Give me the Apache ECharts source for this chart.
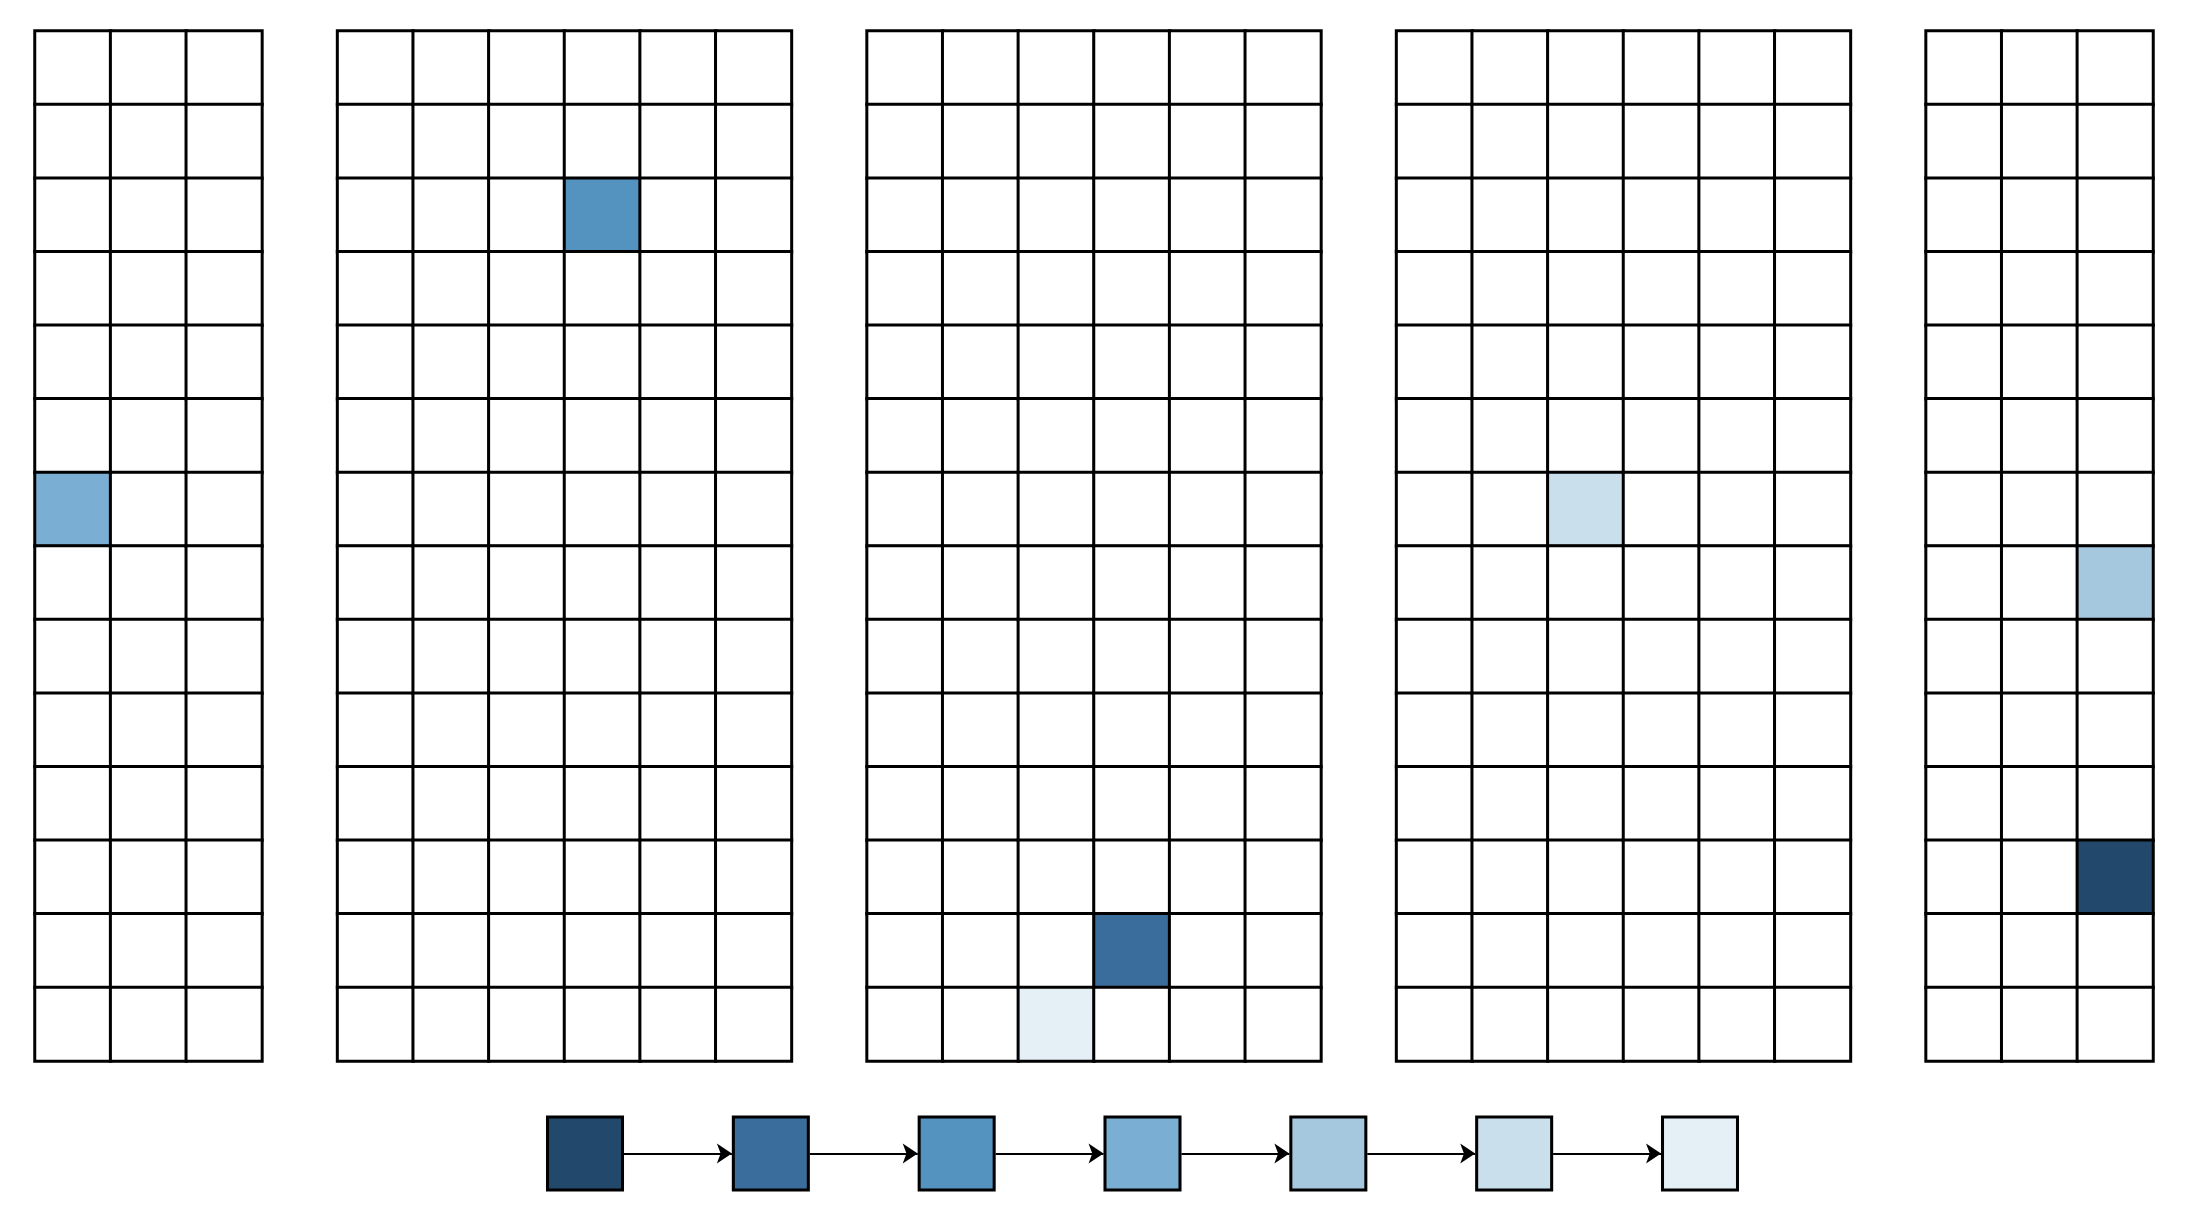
<!DOCTYPE html>
<html>
<head>
<meta charset="utf-8">
<title>grid panels</title>
<script src="https://cdn.jsdelivr.net/npm/echarts@6/dist/echarts.min.js"></script>
<style>
  html, body { margin: 0; padding: 0; background: #fff; }
  #main { width: 2186px; height: 1210px; }
</style>
</head>
<body>
<div id="main"></div>
<script>
// panel widths (columns) and number of rows
var panelCols = [3, 6, 6, 6, 3]
var rowCount = 14
// colour levels, dark -> light (legend order)
var levelColors = ['#22496b', '#3a6d9b', '#5492c0', '#7baed3', '#a6c8df', '#cadfec', '#e5f0f6']
// highlighted cells: panel, column in panel, row, colour level
var marked = [
  [0, 0, 6, 3],
  [1, 3, 2, 2],
  [2, 3, 12, 1],
  [2, 2, 13, 6],
  [3, 2, 6, 5],
  [4, 2, 7, 4],
  [4, 2, 11, 0]
]

// one gap column between panels
var panelStart = []
var totalCols = 0
panelCols.forEach(function (n, i) {
  if (i > 0) totalCols += 1
  panelStart.push(totalCols)
  totalCols += n
})

var xCats = []
for (var c = 0; c < totalCols; c++) xCats.push(c)
var yCats = []
for (var r = 0; r < rowCount; r++) yCats.push(r)

var cells = []
panelCols.forEach(function (n, p) {
  for (var c = 0; c < n; c++) {
    for (var r = 0; r < rowCount; r++) {
      var lvl = -1
      marked.forEach(function (m) {
        if (m[0] === p && m[1] === c && m[2] === r) lvl = m[3]
      })
      cells.push([panelStart[p] + c, r, lvl])
    }
  }
})

var pieces = [{ value: -1, color: '#ffffff' }]
levelColors.forEach(function (col, i) {
  pieces.push({ value: i, color: col })
})

// legend squares and arrows between them
var legendPts = levelColors.map(function (col, i) {
  return { value: [i, 0.5], itemStyle: { color: col } }
})
var half = 39 / 186 // half a square, in legend axis units
var arrows = []
for (var i = 0; i < levelColors.length - 1; i++) {
  arrows.push({ coords: [[i + half, 0.5], [i + 1 - half, 0.5]] })
}

var myChart = echarts.init(document.getElementById('main'))
myChart.setOption({
  animation: false,
  backgroundColor: '#ffffff',
  grid: [
    { left: 35, right: 33, top: 31, bottom: 149 },
    { left: 585, right: 486, top: 1116, height: 75 }
  ],
  xAxis: [
    { type: 'category', data: xCats, show: false, gridIndex: 0 },
    { type: 'value', min: 0, max: levelColors.length - 1, show: false, gridIndex: 1 }
  ],
  yAxis: [
    { type: 'category', data: yCats, inverse: true, show: false, gridIndex: 0 },
    { type: 'value', min: 0, max: 1, show: false, gridIndex: 1 }
  ],
  visualMap: {
    type: 'piecewise',
    show: false,
    seriesIndex: 0,
    dimension: 2,
    pieces: pieces
  },
  series: [
    {
      type: 'heatmap',
      xAxisIndex: 0,
      yAxisIndex: 0,
      data: cells,
      itemStyle: { borderColor: '#000', borderWidth: 3 },
      emphasis: { disabled: true }
    },
    {
      type: 'lines',
      coordinateSystem: 'cartesian2d',
      xAxisIndex: 1,
      yAxisIndex: 1,
      data: arrows,
      symbol: ['none', 'arrow'],
      symbolSize: 15,
      lineStyle: { color: '#000', width: 2, opacity: 1 },
      z: 1
    },
    {
      type: 'scatter',
      xAxisIndex: 1,
      yAxisIndex: 1,
      symbol: 'rect',
      symbolSize: [75, 73],
      clip: false,
      data: legendPts,
      itemStyle: { borderColor: '#000', borderWidth: 3, opacity: 1 },
      emphasis: { disabled: true },
      z: 3
    }
  ]
})
</script>
</body>
</html>
